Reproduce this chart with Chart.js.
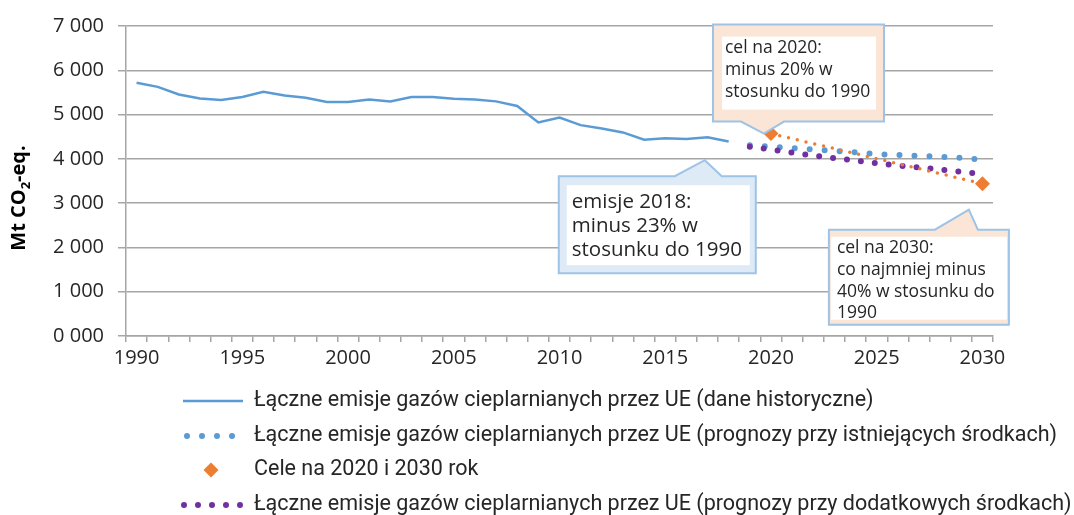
<!DOCTYPE html>
<html>
<head>
<meta charset="utf-8">
<script src="https://cdn.jsdelivr.net/npm/chart.js@4/dist/chart.umd.min.js"></script>
<style>
body{margin:0;background:#fff}
canvas{display:block}
</style>
</head>
<body>
<canvas id="wykres" width="1074" height="515"></canvas>
<script>

// lata na osi X
const lata=["1990","1991","1992","1993","1994","1995","1996","1997","1998","1999",
"2000","2001","2002","2003","2004","2005","2006","2007","2008","2009",
"2010","2011","2012","2013","2014","2015","2016","2017","2018","2019",
"2020","2021","2022","2023","2024","2025","2026","2027","2028","2029","2030"]

// dane historyczne 1990-2018 (Mt CO2-eq.)
const historyczne=[5720,5626,5454,5365,5329,5396,5514,5432,5380,5284,
5284,5342,5295,5396,5396,5358,5342,5298,5195,4821,
4933,4761,4687,4597,4434,4463,4448,4485,4390]

// prognozy 2019-2030
const lataPrognoz=["2019","2020","2021","2022","2023","2024","2025","2026","2027","2028","2029","2030"]
const istniejace=[4306,4275,4244,4210,4181,4148,4107,4087,4067,4047,4020,3984]
const dodatkowe=[4275,4210,4141,4076,4016,3962,3902,3848,3808,3756,3709,3651]

// cele
const lataCele=["2020","2030"]
const cele=[4570,3440]

const yTicki=[0,1000,2000,3000,4000,5000,6000,7000]

const nazwy=[
"Łączne emisje gazów cieplarnianych przez UE (dane historyczne)",
"Łączne emisje gazów cieplarnianych przez UE (prognozy przy istniejących środkach)",
"Cele na 2020 i 2030 rok",
"Łączne emisje gazów cieplarnianych przez UE (prognozy przy dodatkowych środkach)"
]

const NIEBIESKI="#5B9BD5"
const POMARANCZ="#ED7D31"
const FIOLET="#7030A0"
const SIATKA="#a6a6a6"
const TEKST="#262626"

function punkty(x,y){
return y.map((v,i)=>({x:x[i],y:v}))
}

// dymki (wskaznik w jednostkach danych, ramka wzgledem wskaznika)
const dymki=[
{tekst:["cel na 2020:","minus 20% w","stosunku do 1990"],rok:2019.67,wartosc:4570,
ramka:[-51,-109,120,-12],dziob:[-23,20],strona:"dol",tlo:"#FBE5D6",wnetrze:[9,12,8,12],
font:17.5,tx:12,linie:[28.3,50,72.3]},
{tekst:["emisje 2018:","minus 23% w","stosunku do 1990"],rok:2016.87,wartosc:3970,
ramka:[-146,16,51,113],dziob:[-30,17],strona:"gora",tlo:"#DEEBF7",wnetrze:[8,9,6,8],
font:20.5,tx:13,linie:[31.7,56,80]},
{tekst:["cel na 2030:","co najmniej minus","40% w stosunku do","1990"],rok:2029.36,wartosc:2852,
ramka:[-140,20,40,115],dziob:[-34,9],strona:"gora",tlo:"#FBE5D6",wnetrze:[2,7,2,5],
font:17.5,tx:8,linie:[23.7,45.4,67,88.7]}
]

function rysujDymek(ctx,d,ax,ay){
let x1=ax+d.ramka[0],y1=ay+d.ramka[1],x2=ax+d.ramka[2],y2=ay+d.ramka[3]
let b1=ax+d.dziob[0],b2=ax+d.dziob[1]
ctx.beginPath()
ctx.moveTo(x1,y1)
if(d.strona=="gora"){ctx.lineTo(b1,y1);ctx.lineTo(ax,ay);ctx.lineTo(b2,y1)}
ctx.lineTo(x2,y1)
ctx.lineTo(x2,y2)
if(d.strona=="dol"){ctx.lineTo(b2,y2);ctx.lineTo(ax,ay);ctx.lineTo(b1,y2)}
ctx.lineTo(x1,y2)
ctx.closePath()
ctx.fillStyle=d.tlo
ctx.fill()
ctx.strokeStyle="#9DC3E6"
ctx.lineWidth=2
ctx.stroke()
ctx.fillStyle="#fff"
ctx.fillRect(x1+d.wnetrze[0],y1+d.wnetrze[1],(x2-x1)-d.wnetrze[0]-d.wnetrze[2],(y2-y1)-d.wnetrze[1]-d.wnetrze[3])
ctx.fillStyle=TEKST
ctx.font=d.font+"px 'Open Sans'"
ctx.textAlign="left"
ctx.textBaseline="alphabetic"
d.tekst.forEach((t,i)=>ctx.fillText(t,x1+d.tx,y1+d.linie[i]))
}

const dodatki={
id:"dodatki",
afterDatasetsDraw(chart){
let ctx=chart.ctx
let sx=chart.scales.x,sy=chart.scales.y
ctx.save()
dymki.forEach(d=>{
rysujDymek(ctx,d,sx.getPixelForValue(d.rok-1990),sy.getPixelForValue(d.wartosc))
})
ctx.restore()
},
afterDraw(chart){
let ctx=chart.ctx
ctx.save()

// tytul osi Y z indeksem dolnym
ctx.translate(25,198)
ctx.rotate(-Math.PI/2)
ctx.fillStyle="#000"
ctx.textBaseline="alphabetic"
ctx.textAlign="left"
let f1="bold 20px 'Open Sans'",f2="bold 13px 'Open Sans'"
ctx.font=f1
let w1=ctx.measureText("Mt CO").width
let w3=ctx.measureText("-eq.").width
ctx.font=f2
let w2=ctx.measureText("2").width
let start=-(w1+w2+w3)/2
ctx.font=f1
ctx.fillText("Mt CO",start,0)
ctx.font=f2
ctx.fillText("2",start+w1,5)
ctx.font=f1
ctx.fillText("-eq.",start+w1+w2,0)
ctx.restore()

// legenda
ctx.save()
let wiersze=[401,436,470,505]
let xs=183,xe=243
chart.data.datasets.forEach((ds,i)=>{
let y=wiersze[i]
ctx.strokeStyle=ds.borderColor
ctx.lineCap=ds.borderCapStyle||"butt"
if(i==0){
ctx.lineWidth=ds.borderWidth
ctx.setLineDash([])
ctx.beginPath();ctx.moveTo(xs,y);ctx.lineTo(xe,y);ctx.stroke()
}else if(i==2){
ctx.fillStyle=ds.backgroundColor
ctx.beginPath()
let r=ds.pointRadius
ctx.moveTo(211,y-r);ctx.lineTo(211+r,y);ctx.lineTo(211,y+r);ctx.lineTo(211-r,y);ctx.closePath()
ctx.fill()
}else{
ctx.lineWidth=ds.borderWidth
ctx.setLineDash(ds.borderDash)
ctx.beginPath()
if(i==1){ctx.moveTo(187,y);ctx.lineTo(233,y)}else{ctx.moveTo(184,y);ctx.lineTo(241,y)}
ctx.stroke()
}
ctx.setLineDash([])
ctx.fillStyle=TEKST
ctx.font="21.5px Roboto"
ctx.textBaseline="middle"
ctx.textAlign="left"
ctx.fillText(ds.label,254,y)
})
ctx.restore()
}
}

new Chart(document.getElementById("wykres"),{
type:"line",
data:{
labels:lata,
datasets:[
{label:nazwy[0],data:punkty(lata,historyczne),borderColor:NIEBIESKI,borderWidth:2.5,pointRadius:0,tension:0,order:4},
{label:nazwy[1],data:punkty(lataPrognoz,istniejace),borderColor:NIEBIESKI,borderWidth:6,borderDash:[0,15],borderCapStyle:"round",pointRadius:0,order:3},
{label:nazwy[2],data:punkty(lataCele,cele),borderColor:POMARANCZ,backgroundColor:POMARANCZ,borderWidth:3.5,borderDash:[0,9],borderCapStyle:"round",
pointStyle:"rectRot",pointRadius:7.5,pointBorderWidth:0,pointBackgroundColor:POMARANCZ,order:1},
{label:nazwy[3],data:punkty(lataPrognoz,dodatkowe),borderColor:FIOLET,borderWidth:6,borderDash:[0,14],borderCapStyle:"round",pointRadius:0,order:2}
]
},
options:{
responsive:false,
animation:false,
events:[],
devicePixelRatio:1,
layout:{padding:{top:23,right:81,bottom:0,left:0}},
plugins:{legend:{display:false},tooltip:{enabled:false}},
scales:{
x:{
type:"category",
offset:true,
grid:{offset:true,drawOnChartArea:false,drawTicks:true,tickLength:6,color:SIATKA,lineWidth:1.5},
border:{display:true,color:SIATKA,width:1.5},
ticks:{autoSkip:false,maxRotation:0,padding:4,color:TEKST,font:{family:"'Open Sans'",size:20},
callback:function(v,i){let r=lata[i];return Number(r)%5==0?r:""}},
afterFit:s=>{s.height=515-336}
},
y:{
min:0,max:7000,
afterBuildTicks:s=>{s.ticks=yTicki.map(v=>({value:v}))},
grid:{color:SIATKA,lineWidth:1.5,tickLength:8},
border:{display:true,color:SIATKA,width:1.5},
ticks:{padding:14,color:TEKST,font:{family:"'Open Sans'",size:20},
callback:v=>Math.floor(v/1000)+" 000"},
afterFit:s=>{s.width=126}
}
}
},
plugins:[dodatki]
})

</script>
</body>
</html>
